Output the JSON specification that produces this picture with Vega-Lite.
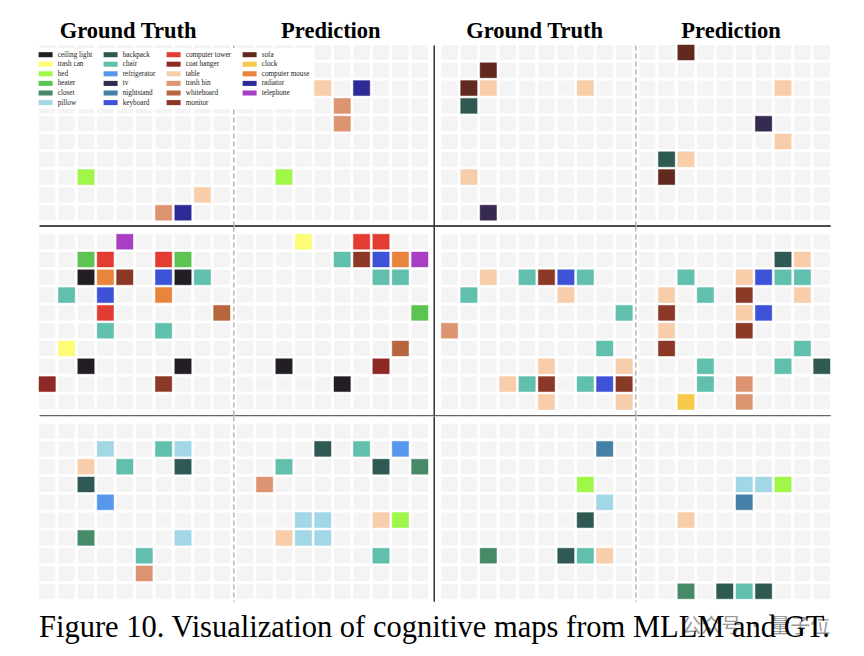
{
"$schema": "https://vega.github.io/schema/vega-lite/v6.json",
"background": "white",
"padding": {"left": 38, "top": 19, "right": 20, "bottom": 10},
"title": {"text": "Figure 10. Visualization of cognitive maps from MLLM and GT.", "orient": "bottom", "anchor": "start", "frame": "group", "font": "Liberation Serif", "fontSize": 30.5, "fontWeight": "normal", "color": "#000", "offset": -24},
"datasets": {
"grid": [
{"c":0,"r":0},{"c":1,"r":0},{"c":2,"r":0},{"c":3,"r":0},{"c":4,"r":0},{"c":5,"r":0},{"c":6,"r":0},{"c":7,"r":0},{"c":8,"r":0},{"c":9,"r":0},
{"c":0,"r":1},{"c":1,"r":1},{"c":2,"r":1},{"c":3,"r":1},{"c":4,"r":1},{"c":5,"r":1},{"c":6,"r":1},{"c":7,"r":1},{"c":8,"r":1},{"c":9,"r":1},
{"c":0,"r":2},{"c":1,"r":2},{"c":2,"r":2},{"c":3,"r":2},{"c":4,"r":2},{"c":5,"r":2},{"c":6,"r":2},{"c":7,"r":2},{"c":8,"r":2},{"c":9,"r":2},
{"c":0,"r":3},{"c":1,"r":3},{"c":2,"r":3},{"c":3,"r":3},{"c":4,"r":3},{"c":5,"r":3},{"c":6,"r":3},{"c":7,"r":3},{"c":8,"r":3},{"c":9,"r":3},
{"c":0,"r":4},{"c":1,"r":4},{"c":2,"r":4},{"c":3,"r":4},{"c":4,"r":4},{"c":5,"r":4},{"c":6,"r":4},{"c":7,"r":4},{"c":8,"r":4},{"c":9,"r":4},
{"c":0,"r":5},{"c":1,"r":5},{"c":2,"r":5},{"c":3,"r":5},{"c":4,"r":5},{"c":5,"r":5},{"c":6,"r":5},{"c":7,"r":5},{"c":8,"r":5},{"c":9,"r":5},
{"c":0,"r":6},{"c":1,"r":6},{"c":2,"r":6},{"c":3,"r":6},{"c":4,"r":6},{"c":5,"r":6},{"c":6,"r":6},{"c":7,"r":6},{"c":8,"r":6},{"c":9,"r":6},
{"c":0,"r":7},{"c":1,"r":7},{"c":2,"r":7},{"c":3,"r":7},{"c":4,"r":7},{"c":5,"r":7},{"c":6,"r":7},{"c":7,"r":7},{"c":8,"r":7},{"c":9,"r":7},
{"c":0,"r":8},{"c":1,"r":8},{"c":2,"r":8},{"c":3,"r":8},{"c":4,"r":8},{"c":5,"r":8},{"c":6,"r":8},{"c":7,"r":8},{"c":8,"r":8},{"c":9,"r":8},
{"c":0,"r":9},{"c":1,"r":9},{"c":2,"r":9},{"c":3,"r":9},{"c":4,"r":9},{"c":5,"r":9},{"c":6,"r":9},{"c":7,"r":9},{"c":8,"r":9},{"c":9,"r":9}
],
"cells": [
{"p":1,"c":2,"r":7,"o":"bed"},{"p":1,"c":8,"r":8,"o":"table"},{"p":1,"c":6,"r":9,"o":"trash bin"},{"p":1,"c":7,"r":9,"o":"radiator"},
{"p":2,"c":4,"r":2,"o":"table"},{"p":2,"c":6,"r":2,"o":"radiator"},{"p":2,"c":5,"r":3,"o":"trash bin"},{"p":2,"c":5,"r":4,"o":"trash bin"},{"p":2,"c":2,"r":7,"o":"bed"},
{"p":3,"c":2,"r":1,"o":"sofa"},{"p":3,"c":1,"r":2,"o":"sofa"},{"p":3,"c":2,"r":2,"o":"table"},{"p":3,"c":7,"r":2,"o":"table"},{"p":3,"c":1,"r":3,"o":"backpack"},{"p":3,"c":1,"r":7,"o":"table"},{"p":3,"c":2,"r":9,"o":"tv"},
{"p":4,"c":2,"r":0,"o":"sofa"},{"p":4,"c":7,"r":2,"o":"table"},{"p":4,"c":6,"r":4,"o":"tv"},{"p":4,"c":7,"r":5,"o":"table"},{"p":4,"c":1,"r":6,"o":"backpack"},{"p":4,"c":2,"r":6,"o":"table"},{"p":4,"c":1,"r":7,"o":"sofa"},
{"p":5,"c":4,"r":0,"o":"telephone"},{"p":5,"c":2,"r":1,"o":"heater"},{"p":5,"c":3,"r":1,"o":"computer tower"},{"p":5,"c":6,"r":1,"o":"computer tower"},{"p":5,"c":7,"r":1,"o":"heater"},{"p":5,"c":2,"r":2,"o":"ceiling light"},{"p":5,"c":3,"r":2,"o":"computer mouse"},{"p":5,"c":4,"r":2,"o":"monitor"},{"p":5,"c":6,"r":2,"o":"keyboard"},{"p":5,"c":7,"r":2,"o":"ceiling light"},{"p":5,"c":8,"r":2,"o":"chair"},{"p":5,"c":1,"r":3,"o":"chair"},{"p":5,"c":3,"r":3,"o":"keyboard"},{"p":5,"c":6,"r":3,"o":"computer mouse"},{"p":5,"c":3,"r":4,"o":"computer tower"},{"p":5,"c":9,"r":4,"o":"whiteboard"},{"p":5,"c":3,"r":5,"o":"chair"},{"p":5,"c":6,"r":5,"o":"chair"},{"p":5,"c":1,"r":6,"o":"trash can"},{"p":5,"c":2,"r":7,"o":"ceiling light"},{"p":5,"c":7,"r":7,"o":"ceiling light"},{"p":5,"c":0,"r":8,"o":"coat hanger"},{"p":5,"c":6,"r":8,"o":"monitor"},
{"p":6,"c":3,"r":0,"o":"trash can"},{"p":6,"c":6,"r":0,"o":"computer tower"},{"p":6,"c":7,"r":0,"o":"computer tower"},{"p":6,"c":5,"r":1,"o":"chair"},{"p":6,"c":6,"r":1,"o":"monitor"},{"p":6,"c":7,"r":1,"o":"keyboard"},{"p":6,"c":8,"r":1,"o":"computer mouse"},{"p":6,"c":9,"r":1,"o":"telephone"},{"p":6,"c":7,"r":2,"o":"chair"},{"p":6,"c":8,"r":2,"o":"chair"},{"p":6,"c":9,"r":4,"o":"heater"},{"p":6,"c":8,"r":6,"o":"whiteboard"},{"p":6,"c":2,"r":7,"o":"ceiling light"},{"p":6,"c":7,"r":7,"o":"coat hanger"},{"p":6,"c":5,"r":8,"o":"ceiling light"},
{"p":7,"c":2,"r":2,"o":"table"},{"p":7,"c":4,"r":2,"o":"chair"},{"p":7,"c":5,"r":2,"o":"monitor"},{"p":7,"c":6,"r":2,"o":"keyboard"},{"p":7,"c":7,"r":2,"o":"chair"},{"p":7,"c":1,"r":3,"o":"chair"},{"p":7,"c":6,"r":3,"o":"table"},{"p":7,"c":9,"r":4,"o":"chair"},{"p":7,"c":0,"r":5,"o":"trash bin"},{"p":7,"c":8,"r":6,"o":"chair"},{"p":7,"c":5,"r":7,"o":"table"},{"p":7,"c":9,"r":7,"o":"table"},{"p":7,"c":3,"r":8,"o":"table"},{"p":7,"c":4,"r":8,"o":"chair"},{"p":7,"c":5,"r":8,"o":"monitor"},{"p":7,"c":7,"r":8,"o":"chair"},{"p":7,"c":8,"r":8,"o":"keyboard"},{"p":7,"c":9,"r":8,"o":"monitor"},{"p":7,"c":5,"r":9,"o":"table"},{"p":7,"c":9,"r":9,"o":"table"},
{"p":8,"c":7,"r":1,"o":"backpack"},{"p":8,"c":8,"r":1,"o":"table"},{"p":8,"c":2,"r":2,"o":"chair"},{"p":8,"c":5,"r":2,"o":"table"},{"p":8,"c":6,"r":2,"o":"keyboard"},{"p":8,"c":7,"r":2,"o":"chair"},{"p":8,"c":8,"r":2,"o":"chair"},{"p":8,"c":1,"r":3,"o":"table"},{"p":8,"c":3,"r":3,"o":"chair"},{"p":8,"c":5,"r":3,"o":"monitor"},{"p":8,"c":8,"r":3,"o":"table"},{"p":8,"c":1,"r":4,"o":"monitor"},{"p":8,"c":5,"r":4,"o":"table"},{"p":8,"c":6,"r":4,"o":"keyboard"},{"p":8,"c":1,"r":5,"o":"table"},{"p":8,"c":5,"r":5,"o":"monitor"},{"p":8,"c":1,"r":6,"o":"monitor"},{"p":8,"c":8,"r":6,"o":"chair"},{"p":8,"c":3,"r":7,"o":"chair"},{"p":8,"c":7,"r":7,"o":"chair"},{"p":8,"c":9,"r":7,"o":"backpack"},{"p":8,"c":3,"r":8,"o":"chair"},{"p":8,"c":5,"r":8,"o":"trash bin"},{"p":8,"c":2,"r":9,"o":"clock"},{"p":8,"c":5,"r":9,"o":"trash bin"},
{"p":9,"c":3,"r":1,"o":"pillow"},{"p":9,"c":6,"r":1,"o":"chair"},{"p":9,"c":7,"r":1,"o":"pillow"},{"p":9,"c":2,"r":2,"o":"table"},{"p":9,"c":4,"r":2,"o":"chair"},{"p":9,"c":7,"r":2,"o":"backpack"},{"p":9,"c":2,"r":3,"o":"backpack"},{"p":9,"c":3,"r":4,"o":"refrigerator"},{"p":9,"c":2,"r":6,"o":"closet"},{"p":9,"c":7,"r":6,"o":"pillow"},{"p":9,"c":5,"r":7,"o":"chair"},{"p":9,"c":5,"r":8,"o":"trash bin"},
{"p":10,"c":4,"r":1,"o":"backpack"},{"p":10,"c":6,"r":1,"o":"chair"},{"p":10,"c":8,"r":1,"o":"refrigerator"},{"p":10,"c":2,"r":2,"o":"chair"},{"p":10,"c":7,"r":2,"o":"backpack"},{"p":10,"c":9,"r":2,"o":"closet"},{"p":10,"c":1,"r":3,"o":"trash bin"},{"p":10,"c":3,"r":5,"o":"pillow"},{"p":10,"c":4,"r":5,"o":"pillow"},{"p":10,"c":7,"r":5,"o":"table"},{"p":10,"c":8,"r":5,"o":"bed"},{"p":10,"c":2,"r":6,"o":"table"},{"p":10,"c":3,"r":6,"o":"pillow"},{"p":10,"c":4,"r":6,"o":"pillow"},{"p":10,"c":7,"r":7,"o":"chair"},
{"p":11,"c":8,"r":1,"o":"nightstand"},{"p":11,"c":7,"r":3,"o":"bed"},{"p":11,"c":8,"r":4,"o":"pillow"},{"p":11,"c":7,"r":5,"o":"backpack"},{"p":11,"c":2,"r":7,"o":"closet"},{"p":11,"c":6,"r":7,"o":"backpack"},{"p":11,"c":7,"r":7,"o":"chair"},{"p":11,"c":8,"r":7,"o":"table"},
{"p":12,"c":5,"r":3,"o":"pillow"},{"p":12,"c":6,"r":3,"o":"pillow"},{"p":12,"c":7,"r":3,"o":"bed"},{"p":12,"c":5,"r":4,"o":"nightstand"},{"p":12,"c":2,"r":5,"o":"table"},{"p":12,"c":2,"r":9,"o":"closet"},{"p":12,"c":4,"r":9,"o":"backpack"},{"p":12,"c":5,"r":9,"o":"chair"},{"p":12,"c":6,"r":9,"o":"backpack"}
]
},
"columns": 4,
"spacing": 0,
"bounds": "flush",
"align": "each",
"concat": [
{"width":194.3,"height":180.5,"title":{"text":"Ground Truth","dx":-8},
 "encoding":{"x":{"field":"c","type":"quantitative","scale":{"domain":[-0.4227,9.593],"nice":false,"zero":false},"axis":{"orient":"bottom","domainColor":"#111","domainWidth":1.3,"labels":false,"ticks":false,"grid":false,"title":null}},
  "y":{"field":"r","type":"quantitative","scale":{"domain":[-0.421,9.719],"nice":false,"zero":false,"reverse":true},"axis":{"orient":"right","domainColor":"#aaaaaa","domainDash":[5,3],"domainWidth":1.3,"labels":false,"ticks":false,"grid":false,"title":null}}},
 "layer":[{"data":{"name":"grid"},"mark":{"type":"rect","width":16.4,"height":15,"fill":"#f4f4f4"}},
  {"data":{"name":"cells"},"transform":[{"filter":"datum.p == 1"}],"mark":{"type":"rect","width":16.4,"height":15,"strokeWidth":1,"strokeOpacity":0.45,"fillOpacity":1},
   "encoding":{"color":{"field":"o","type":"nominal","legend":{"title":null},"scale":{"domain":["ceiling light","trash can","bed","heater","closet","pillow","backpack","chair","refrigerator","tv","nightstand","keyboard","computer tower","coat hanger","table","trash bin","whiteboard","monitor","sofa","clock","computer mouse","radiator","telephone"],"range":["#221e24","#fdfd75","#a0f74a","#5dc454","#468a68","#a2d8e6","#2f5a53","#60bfad","#5797ee","#372a50","#4580a8","#3d52d6","#e23c33","#8e2824","#f8ceaa","#dd9470","#b8663e","#8b3926","#62291f","#f7c948","#e8843c","#2e2a98","#a83ec4"]}},
   "stroke":{"field":"o","type":"nominal","legend":null,"scale":{"domain":["ceiling light","trash can","bed","heater","closet","pillow","backpack","chair","refrigerator","tv","nightstand","keyboard","computer tower","coat hanger","table","trash bin","whiteboard","monitor","sofa","clock","computer mouse","radiator","telephone"],"range":["#221e24","#fdfd75","#a0f74a","#5dc454","#468a68","#a2d8e6","#2f5a53","#60bfad","#5797ee","#372a50","#4580a8","#3d52d6","#e23c33","#8e2824","#f8ceaa","#dd9470","#b8663e","#8b3926","#62291f","#f7c948","#e8843c","#2e2a98","#a83ec4"]}}}}]},
{"width":199.7,"height":180.5,"title":{"text":"Prediction","dx":-3},
 "encoding":{"x":{"field":"c","type":"quantitative","scale":{"domain":[-0.577,9.716],"nice":false,"zero":false},"axis":{"orient":"bottom","domainColor":"#111","domainWidth":1.3,"labels":false,"ticks":false,"grid":false,"title":null}},
  "y":{"field":"r","type":"quantitative","scale":{"domain":[-0.421,9.719],"nice":false,"zero":false,"reverse":true},"axis":{"orient":"right","domainColor":"#111","domainWidth":1.3,"labels":false,"ticks":false,"grid":false,"title":null}}},
 "layer":[{"data":{"name":"grid"},"mark":{"type":"rect","width":16.4,"height":15,"fill":"#f4f4f4"}},
  {"data":{"name":"cells"},"transform":[{"filter":"datum.p == 2"}],"mark":{"type":"rect","width":16.4,"height":15,"strokeWidth":1,"strokeOpacity":0.45,"fillOpacity":1},
   "encoding":{"color":{"field":"o","type":"nominal","legend":{"title":null}},"stroke":{"field":"o","type":"nominal","legend":null}}}]},
{"width":201.3,"height":180.5,"title":{"text":"Ground Truth","dx":0},
 "encoding":{"x":{"field":"c","type":"quantitative","scale":{"domain":[-0.799,9.577],"nice":false,"zero":false},"axis":{"orient":"bottom","domainColor":"#111","domainWidth":1.3,"labels":false,"ticks":false,"grid":false,"title":null}},
  "y":{"field":"r","type":"quantitative","scale":{"domain":[-0.421,9.719],"nice":false,"zero":false,"reverse":true},"axis":{"orient":"right","domainColor":"#aaaaaa","domainDash":[5,3],"domainWidth":1.3,"labels":false,"ticks":false,"grid":false,"title":null}}},
 "layer":[{"data":{"name":"grid"},"mark":{"type":"rect","width":16.4,"height":15,"fill":"#f4f4f4"}},
  {"data":{"name":"cells"},"transform":[{"filter":"datum.p == 3"}],"mark":{"type":"rect","width":16.4,"height":15,"strokeWidth":1,"strokeOpacity":0.45,"fillOpacity":1},
   "encoding":{"color":{"field":"o","type":"nominal","legend":{"title":null}},"stroke":{"field":"o","type":"nominal","legend":null}}}]},
{"width":194.2,"height":180.5,"title":{"text":"Prediction","dx":-2},
 "encoding":{"x":{"field":"c","type":"quantitative","scale":{"domain":[-0.577,9.433],"nice":false,"zero":false},"axis":{"orient":"bottom","domainColor":"#111","domainWidth":1.3,"labels":false,"ticks":false,"grid":false,"title":null}},
  "y":{"field":"r","type":"quantitative","scale":{"domain":[-0.421,9.719],"nice":false,"zero":false,"reverse":true},"axis":null}},
 "layer":[{"data":{"name":"grid"},"mark":{"type":"rect","width":16.4,"height":15,"fill":"#f4f4f4"}},
  {"data":{"name":"cells"},"transform":[{"filter":"datum.p == 4"}],"mark":{"type":"rect","width":16.4,"height":15,"strokeWidth":1,"strokeOpacity":0.45,"fillOpacity":1},
   "encoding":{"color":{"field":"o","type":"nominal","legend":{"title":null}},"stroke":{"field":"o","type":"nominal","legend":null}}}]},
{"width":194.3,"height":189.2,
 "encoding":{"x":{"field":"c","type":"quantitative","scale":{"domain":[-0.4227,9.593],"nice":false,"zero":false},"axis":{"orient":"bottom","domainColor":"#666666","domainWidth":1.3,"labels":false,"ticks":false,"grid":false,"title":null}},
  "y":{"field":"r","type":"quantitative","scale":{"domain":[-0.882,9.747],"nice":false,"zero":false,"reverse":true},"axis":{"orient":"right","domainColor":"#aaaaaa","domainDash":[5,3],"domainWidth":1.3,"labels":false,"ticks":false,"grid":false,"title":null}}},
 "layer":[{"data":{"name":"grid"},"mark":{"type":"rect","width":16.4,"height":15,"fill":"#f4f4f4"}},
  {"data":{"name":"cells"},"transform":[{"filter":"datum.p == 5"}],"mark":{"type":"rect","width":16.4,"height":15,"strokeWidth":1,"strokeOpacity":0.45,"fillOpacity":1},
   "encoding":{"color":{"field":"o","type":"nominal","legend":{"title":null}},"stroke":{"field":"o","type":"nominal","legend":null}}}]},
{"width":199.7,"height":189.2,
 "encoding":{"x":{"field":"c","type":"quantitative","scale":{"domain":[-0.577,9.716],"nice":false,"zero":false},"axis":{"orient":"bottom","domainColor":"#666666","domainWidth":1.3,"labels":false,"ticks":false,"grid":false,"title":null}},
  "y":{"field":"r","type":"quantitative","scale":{"domain":[-0.882,9.747],"nice":false,"zero":false,"reverse":true},"axis":{"orient":"right","domainColor":"#111","domainWidth":1.3,"labels":false,"ticks":false,"grid":false,"title":null}}},
 "layer":[{"data":{"name":"grid"},"mark":{"type":"rect","width":16.4,"height":15,"fill":"#f4f4f4"}},
  {"data":{"name":"cells"},"transform":[{"filter":"datum.p == 6"}],"mark":{"type":"rect","width":16.4,"height":15,"strokeWidth":1,"strokeOpacity":0.45,"fillOpacity":1},
   "encoding":{"color":{"field":"o","type":"nominal","legend":{"title":null}},"stroke":{"field":"o","type":"nominal","legend":null}}}]},
{"width":201.3,"height":189.2,
 "encoding":{"x":{"field":"c","type":"quantitative","scale":{"domain":[-0.799,9.577],"nice":false,"zero":false},"axis":{"orient":"bottom","domainColor":"#666666","domainWidth":1.3,"labels":false,"ticks":false,"grid":false,"title":null}},
  "y":{"field":"r","type":"quantitative","scale":{"domain":[-0.882,9.747],"nice":false,"zero":false,"reverse":true},"axis":{"orient":"right","domainColor":"#aaaaaa","domainDash":[5,3],"domainWidth":1.3,"labels":false,"ticks":false,"grid":false,"title":null}}},
 "layer":[{"data":{"name":"grid"},"mark":{"type":"rect","width":16.4,"height":15,"fill":"#f4f4f4"}},
  {"data":{"name":"cells"},"transform":[{"filter":"datum.p == 7"}],"mark":{"type":"rect","width":16.4,"height":15,"strokeWidth":1,"strokeOpacity":0.45,"fillOpacity":1},
   "encoding":{"color":{"field":"o","type":"nominal","legend":{"title":null}},"stroke":{"field":"o","type":"nominal","legend":null}}}]},
{"width":194.2,"height":189.2,
 "encoding":{"x":{"field":"c","type":"quantitative","scale":{"domain":[-0.577,9.433],"nice":false,"zero":false},"axis":{"orient":"bottom","domainColor":"#666666","domainWidth":1.3,"labels":false,"ticks":false,"grid":false,"title":null}},
  "y":{"field":"r","type":"quantitative","scale":{"domain":[-0.882,9.747],"nice":false,"zero":false,"reverse":true},"axis":null}},
 "layer":[{"data":{"name":"grid"},"mark":{"type":"rect","width":16.4,"height":15,"fill":"#f4f4f4"}},
  {"data":{"name":"cells"},"transform":[{"filter":"datum.p == 8"}],"mark":{"type":"rect","width":16.4,"height":15,"strokeWidth":1,"strokeOpacity":0.45,"fillOpacity":1},
   "encoding":{"color":{"field":"o","type":"nominal","legend":{"title":null}},"stroke":{"field":"o","type":"nominal","legend":null}}}]},
{"width":194.3,"height":185.3,
 "encoding":{"x":{"field":"c","type":"quantitative","scale":{"domain":[-0.4227,9.593],"nice":false,"zero":false},"axis":null},
  "y":{"field":"r","type":"quantitative","scale":{"domain":[-0.848,9.562],"nice":false,"zero":false,"reverse":true},"axis":{"orient":"right","domainColor":"#aaaaaa","domainDash":[5,3],"domainWidth":1.3,"labels":false,"ticks":false,"grid":false,"title":null}}},
 "layer":[{"data":{"name":"grid"},"mark":{"type":"rect","width":16.4,"height":15,"fill":"#f4f4f4"}},
  {"data":{"name":"cells"},"transform":[{"filter":"datum.p == 9"}],"mark":{"type":"rect","width":16.4,"height":15,"strokeWidth":1,"strokeOpacity":0.45,"fillOpacity":1},
   "encoding":{"color":{"field":"o","type":"nominal","legend":{"title":null}},"stroke":{"field":"o","type":"nominal","legend":null}}}]},
{"width":199.7,"height":185.3,
 "encoding":{"x":{"field":"c","type":"quantitative","scale":{"domain":[-0.577,9.716],"nice":false,"zero":false},"axis":null},
  "y":{"field":"r","type":"quantitative","scale":{"domain":[-0.848,9.562],"nice":false,"zero":false,"reverse":true},"axis":{"orient":"right","domainColor":"#111","domainWidth":1.3,"labels":false,"ticks":false,"grid":false,"title":null}}},
 "layer":[{"data":{"name":"grid"},"mark":{"type":"rect","width":16.4,"height":15,"fill":"#f4f4f4"}},
  {"data":{"name":"cells"},"transform":[{"filter":"datum.p == 10"}],"mark":{"type":"rect","width":16.4,"height":15,"strokeWidth":1,"strokeOpacity":0.45,"fillOpacity":1},
   "encoding":{"color":{"field":"o","type":"nominal","legend":{"title":null}},"stroke":{"field":"o","type":"nominal","legend":null}}}]},
{"width":201.3,"height":185.3,
 "encoding":{"x":{"field":"c","type":"quantitative","scale":{"domain":[-0.799,9.577],"nice":false,"zero":false},"axis":null},
  "y":{"field":"r","type":"quantitative","scale":{"domain":[-0.848,9.562],"nice":false,"zero":false,"reverse":true},"axis":{"orient":"right","domainColor":"#aaaaaa","domainDash":[5,3],"domainWidth":1.3,"labels":false,"ticks":false,"grid":false,"title":null}}},
 "layer":[{"data":{"name":"grid"},"mark":{"type":"rect","width":16.4,"height":15,"fill":"#f4f4f4"}},
  {"data":{"name":"cells"},"transform":[{"filter":"datum.p == 11"}],"mark":{"type":"rect","width":16.4,"height":15,"strokeWidth":1,"strokeOpacity":0.45,"fillOpacity":1},
   "encoding":{"color":{"field":"o","type":"nominal","legend":{"title":null}},"stroke":{"field":"o","type":"nominal","legend":null}}}]},
{"width":194.2,"height":185.3,"title":{"text":"公众号  ·  量子位","orient":"bottom","anchor":"end","font":"Noto Sans CJK SC","fontSize":20,"fontWeight":"normal","color":"#999999","opacity":0.8,"offset":16},
 "encoding":{"x":{"field":"c","type":"quantitative","scale":{"domain":[-0.577,9.433],"nice":false,"zero":false},"axis":null},
  "y":{"field":"r","type":"quantitative","scale":{"domain":[-0.848,9.562],"nice":false,"zero":false,"reverse":true},"axis":null}},
 "layer":[{"data":{"name":"grid"},"mark":{"type":"rect","width":16.4,"height":15,"fill":"#f4f4f4"}},
  {"data":{"name":"cells"},"transform":[{"filter":"datum.p == 12"}],"mark":{"type":"rect","width":16.4,"height":15,"strokeWidth":1,"strokeOpacity":0.45,"fillOpacity":1},
   "encoding":{"color":{"field":"o","type":"nominal","legend":{"title":null}},"stroke":{"field":"o","type":"nominal","legend":null}}}]}
],
"config": {
 "view": {"stroke": null},
 "title": {"font": "Liberation Serif", "fontSize": 22.5, "fontWeight": "bold", "color": "#000", "offset": 2},
 "legend": {
  "orient": "none", "legendX": 0, "legendY": 3,
  "columns": 4, "columnPadding": 10, "rowPadding": 1.6,
  "symbolType": "M-2,-0.72H2V0.72H-2Z", "symbolSize": 49, "symbolStrokeWidth": 0, "symbolOpacity": 1,
  "labelFont": "Liberation Serif", "labelFontSize": 7.2, "labelColor": "#222", "labelOffset": 8.5, "labelLimit": 0,
  "fillColor": "white", "padding": 3
 }
}
}
